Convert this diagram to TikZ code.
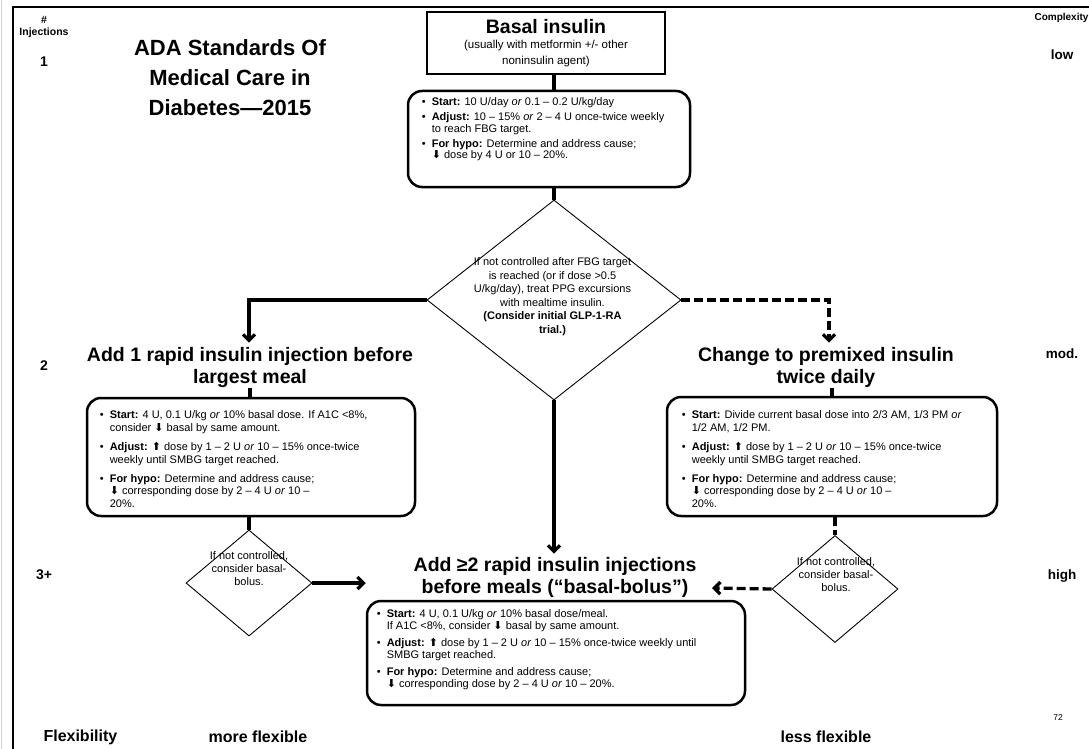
\documentclass[tikz,border=0pt]{standalone}
\usepackage{fontspec}
\setmainfont{Liberation Sans}
\newfontfamily\arrowfont{DejaVu Sans}
\usetikzlibrary{shapes.geometric,arrows.meta,calc}
\newcommand{\arrdn}{{\arrowfont ⬇}}
\newcommand{\arrup}{{\arrowfont ⬆}}
\newcommand{\bodyfont}{\fontsize{11}{12.7}\selectfont}

\begin{document}
\begin{tikzpicture}[x=1pt,y=-1pt,>={Straight Barb[length=6pt,width=12pt]},
  link/.style={line width=3.3pt},
  dlink/.style={line width=3.3pt,dash pattern=on 9pt off 4pt},
  plainbox/.style={draw,line width=1.2pt,minimum width=238pt,minimum height=62pt,align=center,inner sep=0pt},
  roundbox/.style={draw,line width=2.5pt,rounded corners=14pt,inner sep=0pt},
  decide/.style={draw,diamond,line width=0.9pt,inner sep=0pt},
  heading/.style={font=\fontsize{19.5}{22}\selectfont\bfseries,align=center,inner sep=1pt},
  bodytxt/.style={font=\bodyfont,anchor=north west,inner sep=0pt},
  asktxt/.style={font=\fontsize{11}{13.5}\selectfont,align=center,inner sep=0pt},
  side/.style={font=\fontsize{13.5}{15}\selectfont\bfseries},
  foot/.style={font=\fontsize{16}{18}\selectfont\bfseries}]
\useasboundingbox (0,0) rectangle (1089,749);
% frame of the slide
\draw[gray!35,line width=0.8pt] (1,0) -- (1,749);
\draw[line width=1.4pt] (13,749) -- (13,7) -- (1089,7);

% side labels
\node[font=\fontsize{10.5}{12.5}\selectfont\bfseries,align=center] (inj) at (44,27) {\#\\Injections};
\node[font=\fontsize{10}{12}\selectfont\bfseries,anchor=west] (cplx) at (1031,18) {Complexity};
\foreach \y/\n in {62/1,366/2,575/3+}
{
    \node[font=\fontsize{14}{16}\selectfont\bfseries] at (44,\y) {\n};
}
\foreach \y/\t in {55/low,354/mod.,576/high}
{
    \node[side] at (1062,\y) {\t};
}
\node[font=\fontsize{22}{30}\selectfont\bfseries,align=center] (title) at (230,78)
  {ADA Standards Of\\Medical Care in\\Diabetes—2015};

% step 1: basal insulin
\node[plainbox,font=\fontsize{11.5}{15.5}\selectfont] (basal) at (546,43)
  {\textbf{\fontsize{19.5}{21}\selectfont Basal insulin}\\[0pt]
   (usually with metformin +/- other\\noninsulin agent)};
\node[roundbox,minimum width=282pt,minimum height=96pt] (dose) at (549,139) {};
\node[bodytxt,font=\fontsize{11}{11.5}\selectfont] (dosetxt) at ($(dose.north west)+(15,8)$) {%
\begin{tabular}{@{}l@{\hspace{6pt}}l@{}}
•&\textbf{Start:} 10 U/day \textit{or} 0.1 – 0.2 U/kg/day\\[3.5pt]
•&\textbf{Adjust:} 10 – 15\% \textit{or} 2 – 4 U once-twice weekly\\
 &to reach FBG target.\\[3.5pt]
•&\textbf{For hypo:} Determine and address cause;\\
 &\arrdn{} dose by 4 U or 10 – 20\%.
\end{tabular}};

\node[decide,minimum width=254pt,minimum height=200pt] (dia) at (554,300) {};
\node[asktxt] (diatxt) at (552.5,296.5)
  {If not controlled after FBG target\\is reached (or if dose >0.5\\U/kg/day), treat PPG excursions\\
   with mealtime insulin.\\\textbf{(Consider initial GLP-1-RA}\\\textbf{trial.)}};

% step 2 left: one rapid injection
\node[heading] (addone) at (250,367) {Add 1 rapid insulin injection before\\largest meal};
\node[roundbox,minimum width=328pt,minimum height=118pt] (onebox) at (251,457) {};
\node[bodytxt] (onetxt) at ($(onebox.north west)+(14,13)$) {%
\begin{tabular}{@{}l@{\hspace{6pt}}l@{}}
•&\textbf{Start:} 4 U, 0.1 U/kg \textit{or} 10\% basal dose. If A1C <8\%,\\
 &consider \arrdn{} basal by same amount.\\[6.3pt]
•&\textbf{Adjust:} \arrup{} dose by 1 – 2 U \textit{or} 10 – 15\% once-twice\\
 &weekly until SMBG target reached.\\[6.3pt]
•&\textbf{For hypo:} Determine and address cause;\\
 &\arrdn{} corresponding dose by 2 – 4 U \textit{or} 10 –\\
 &20\%.
\end{tabular}};
\node[decide,minimum width=126pt,minimum height=106pt] (lftdia) at (249,583) {};
\node[asktxt,font=\fontsize{11}{13}\selectfont] (lfttxt) at (249,569) {If not controlled,\\consider basal-\\bolus.};

% step 2 right: premixed insulin
\node[heading] (premix) at (826,367) {Change to premixed insulin\\twice daily};
\node[roundbox,minimum width=330pt,minimum height=119pt] (rgtbox) at (832,456.5) {};
\node[bodytxt] (rgttxt) at ($(rgtbox.north west)+(16,14)$) {%
\begin{tabular}{@{}l@{\hspace{6pt}}l@{}}
•&\textbf{Start:} Divide current basal dose into 2/3 AM, 1/3 PM \textit{or}\\
 &1/2 AM, 1/2 PM.\\[6.3pt]
•&\textbf{Adjust:} \arrup{} dose by 1 – 2 U \textit{or} 10 – 15\% once-twice\\
 &weekly until SMBG target reached.\\[6.3pt]
•&\textbf{For hypo:} Determine and address cause;\\
 &\arrdn{} corresponding dose by 2 – 4 U \textit{or} 10 –\\
 &20\%.
\end{tabular}};
\node[decide,minimum width=126pt,minimum height=107pt] (rgtdia) at (835,589) {};
\node[asktxt,font=\fontsize{11}{13}\selectfont] (rgttxt2) at (836,575) {If not controlled,\\consider basal-\\bolus.};

% step 3: basal-bolus
\node[heading] (basbol) at (555,577) {Add ≥2 rapid insulin injections\\before meals (“basal-bolus”)};
\node[roundbox,minimum width=378pt,minimum height=104pt] (bbox) at (556,653) {};
\node[bodytxt,font=\fontsize{11}{12}\selectfont] (bbtxt) at ($(bbox.north west)+(11,9)$) {%
\begin{tabular}{@{}l@{\hspace{6pt}}l@{}}
•&\textbf{Start:} 4 U, 0.1 U/kg \textit{or} 10\% basal dose/meal.\\
 &If A1C <8\%, consider \arrdn{} basal by same amount.\\[5pt]
•&\textbf{Adjust:} \arrup{} dose by 1 – 2 U \textit{or} 10 – 15\% once-twice weekly until\\
 &SMBG target reached.\\[5pt]
•&\textbf{For hypo:} Determine and address cause;\\
 &\arrdn{} corresponding dose by 2 – 4 U \textit{or} 10 – 20\%.
\end{tabular}};
\coordinate (rgtend) at (712,588);

% connectors
\draw[link] (basal.south -| dia.north) -- (dose.north -| dia.north);
\draw[link] (dose.south -| dia.north) -- (dia.north);
\draw[link,->] (dia.west) -| ($(addone.north)+(-1,-3)$);
\draw[dlink,->] (dia.east) -| ($(premix.north)+(3,-3)$);
\draw[link,->] (dia.south) -- ($(dia.south |- basbol.north)+(0,-2)$);
\draw[link] (addone.south) -- (addone.south |- onebox.north);
\draw[link] (onebox.south -| lftdia.north) -- (lftdia.north);
\draw[link,->] (lftdia.east) -- (lftdia.east -| bbox.west);
\draw[link] (rgtbox.north |- premix.south) -- (rgtbox.north);
\draw[dlink] (rgtbox.south -| rgtdia.north) -- (rgtdia.north);
\draw[dlink,->] (rgtdia.west) -- (rgtend);

% bottom row
\node[foot,anchor=west] (flex) at (40,737) {Flexibility};
\node[foot] (more) at (258,737) {more flexible};
\node[foot] (less) at (826,737) {less flexible};
\node[font=\fontsize{8.5}{9}\selectfont] (page) at (1058,718) {72};
\end{tikzpicture}
\end{document}
